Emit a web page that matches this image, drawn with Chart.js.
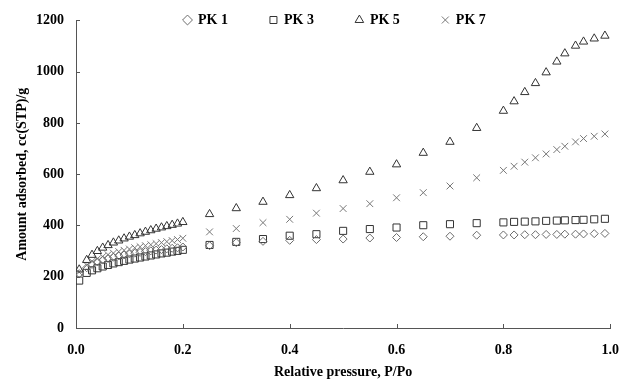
<!DOCTYPE html>
<html>
<head>
<meta charset="utf-8">
<script src="https://cdn.jsdelivr.net/npm/chart.js@4.4.1/dist/chart.umd.min.js"></script>
<style>
    html, body { margin: 0; padding: 0; background: #fff; }
    #wrap { width: 633px; height: 382px; }
</style>
</head>
<body>
<div id="wrap"><canvas id="isotherm"></canvas></div>
<script>
// Relative pressure P/Po (shared by all samples)
const pressure = [
    0.006, 0.02, 0.03, 0.04, 0.05, 0.06, 0.07, 0.08, 0.09, 0.10,
    0.11, 0.12, 0.13, 0.14, 0.15, 0.16, 0.17, 0.18, 0.19, 0.20,
    0.25, 0.30, 0.35, 0.40, 0.45, 0.50, 0.55, 0.60, 0.65, 0.70, 0.75,
    0.80, 0.82, 0.84, 0.86, 0.88, 0.90, 0.915, 0.935, 0.95, 0.97, 0.99
];

// Amount adsorbed, cc(STP)/g
const pk1 = [
    212, 235, 248, 258, 265, 271, 276, 281, 285, 289,
    292, 295, 298, 301, 304, 306, 309, 311, 313, 316,
    321, 333, 338, 342, 345, 347, 351, 353, 356, 358, 362,
    363, 363, 364, 364, 365, 365, 366, 366, 367, 368, 369
];
const pk3 = [
    185, 215, 225, 233, 240, 246, 252, 257, 262, 267,
    271, 275, 279, 283, 287, 291, 294, 298, 301, 305,
    324, 336, 347, 360, 366, 379, 386, 392, 401, 405, 409,
    412, 414, 415, 416, 418, 419, 420, 421, 422, 424, 426
];
const pk5 = [
    228, 265, 285, 300, 313, 323, 333, 341, 349, 356,
    362, 369, 375, 381, 387, 392, 397, 402, 407, 413,
    444, 467, 492, 518, 545, 576, 609, 638, 683, 726, 780,
    847, 884, 920, 955, 997, 1039, 1071, 1101, 1117, 1129, 1140
];
const pk7 = [
    218, 245, 260, 270, 279, 286, 292, 298, 303, 308,
    313, 317, 321, 325, 329, 333, 337, 341, 345, 350,
    375, 388, 411, 424, 448, 466, 485, 508, 528, 554, 586,
    615, 631, 647, 664, 679, 696, 709, 726, 739, 748, 757
];

const seriesNames = ['PK 1', 'PK 3', 'PK 5', 'PK 7'];
const xTicks = [0, 0.2, 0.4, 0.6, 0.8, 1.0];
const yTicks = [0, 200, 400, 600, 800, 1000, 1200];

const serif = "'Liberation Serif', 'Times New Roman', serif";
const axisColor = '#555';

function toPoints(values) {
    return values.map((v, i) => ({ x: pressure[i], y: v }));
}

function makeSet(label, values, style, color, radius) {
    return {
        label: label,
        data: toPoints(values),
        showLine: false,
        pointStyle: style,
        pointRadius: radius,
        pointHoverRadius: radius,
        pointBorderWidth: 1,
        pointBorderColor: color,
        pointBackgroundColor: 'rgba(0,0,0,0)',
        borderColor: color,
        backgroundColor: 'rgba(0,0,0,0)'
    };
}

// small inward tick marks like the original figure
const innerTicks = {
    id: 'innerTicks',
    afterDraw(chart) {
        const { ctx, chartArea, scales } = chart;
        ctx.save();
        ctx.strokeStyle = axisColor;
        ctx.lineWidth = 1;
        ctx.beginPath();
        yTicks.forEach(v => {
            const y = Math.round(scales.y.getPixelForValue(v)) + 0.5;
            ctx.moveTo(chartArea.left, y);
            ctx.lineTo(chartArea.left + 4, y);
        });
        xTicks.forEach(v => {
            const x = Math.round(scales.x.getPixelForValue(v)) + 0.5;
            ctx.moveTo(x, chartArea.bottom);
            ctx.lineTo(x, chartArea.bottom - 4);
        });
        ctx.stroke();
        ctx.restore();
    }
};

// legend row sits on the top edge of the plot, inside it
const legendShift = {
    id: 'legendShift',
    afterLayout(chart) {
        const lg = chart.legend;
        if (!lg) return;
        const pad = lg.options.labels.padding;
        lg.top = 20 - 7 - pad;
        lg.bottom = 40;
        lg.left = 184 - pad;
        lg.right = chart.chartArea.right;
        lg.height = lg.bottom - lg.top;
        lg.width = lg.right - lg.left;
    }
};

const ctx = document.getElementById('isotherm').getContext('2d');

new Chart(ctx, {
    type: 'scatter',
    data: {
        datasets: [
            makeSet(seriesNames[0], pk1, 'rectRot', '#6b6b6b', 4),
            makeSet(seriesNames[1], pk3, 'rect', '#333', 5),
            makeSet(seriesNames[2], pk5, 'triangle', '#333', 4.8),
            makeSet(seriesNames[3], pk7, 'crossRot', '#777', 4.8)
        ]
    },
    options: {
        responsive: true,
        maintainAspectRatio: false,
        animation: false,
        layout: { padding: { left: 0, right: 16, top: 17.5, bottom: 0 } },
        plugins: {
            tooltip: { enabled: false },
            legend: {
                position: 'top',
                align: 'start',
                maxHeight: 1,
                labels: {
                    usePointStyle: true,
                    boxWidth: 7,
                    boxHeight: 7,
                    padding: 42,
                    color: '#000',
                    font: { family: serif, size: 14, weight: 'bold' }
                }
            }
        },
        scales: {
            x: {
                type: 'linear',
                min: 0,
                max: 1,
                afterFit: s => { s.height = 54; },
                afterBuildTicks: s => { s.ticks = xTicks.map(v => ({ value: v })); },
                ticks: {
                    padding: 14,
                    color: '#000',
                    font: { family: serif, size: 14, weight: 'bold' },
                    callback: v => v.toFixed(1)
                },
                grid: { display: false, drawTicks: false },
                border: { display: true, color: axisColor, width: 1 },
                title: {
                    display: true,
                    text: 'Relative pressure, P/Po',
                    color: '#000',
                    font: { family: serif, size: 14, weight: 'bold' },
                    padding: { top: 0, bottom: 1 }
                }
            },
            y: {
                min: 0,
                max: 1200,
                afterFit: s => { s.width = 76; },
                afterBuildTicks: s => { s.ticks = yTicks.map(v => ({ value: v })); },
                ticks: {
                    padding: 12,
                    color: '#000',
                    font: { family: serif, size: 14, weight: 'bold' },
                    callback: v => String(v)
                },
                grid: { display: false, drawTicks: false },
                border: { display: true, color: axisColor, width: 1 },
                title: {
                    display: true,
                    text: 'Amount adsorbed, cc(STP)/g',
                    color: '#000',
                    font: { family: serif, size: 14, weight: 'bold' },
                    padding: { top: 14, bottom: 0 }
                }
            }
        }
    },
    plugins: [innerTicks, legendShift]
});
</script>
</body>
</html>
